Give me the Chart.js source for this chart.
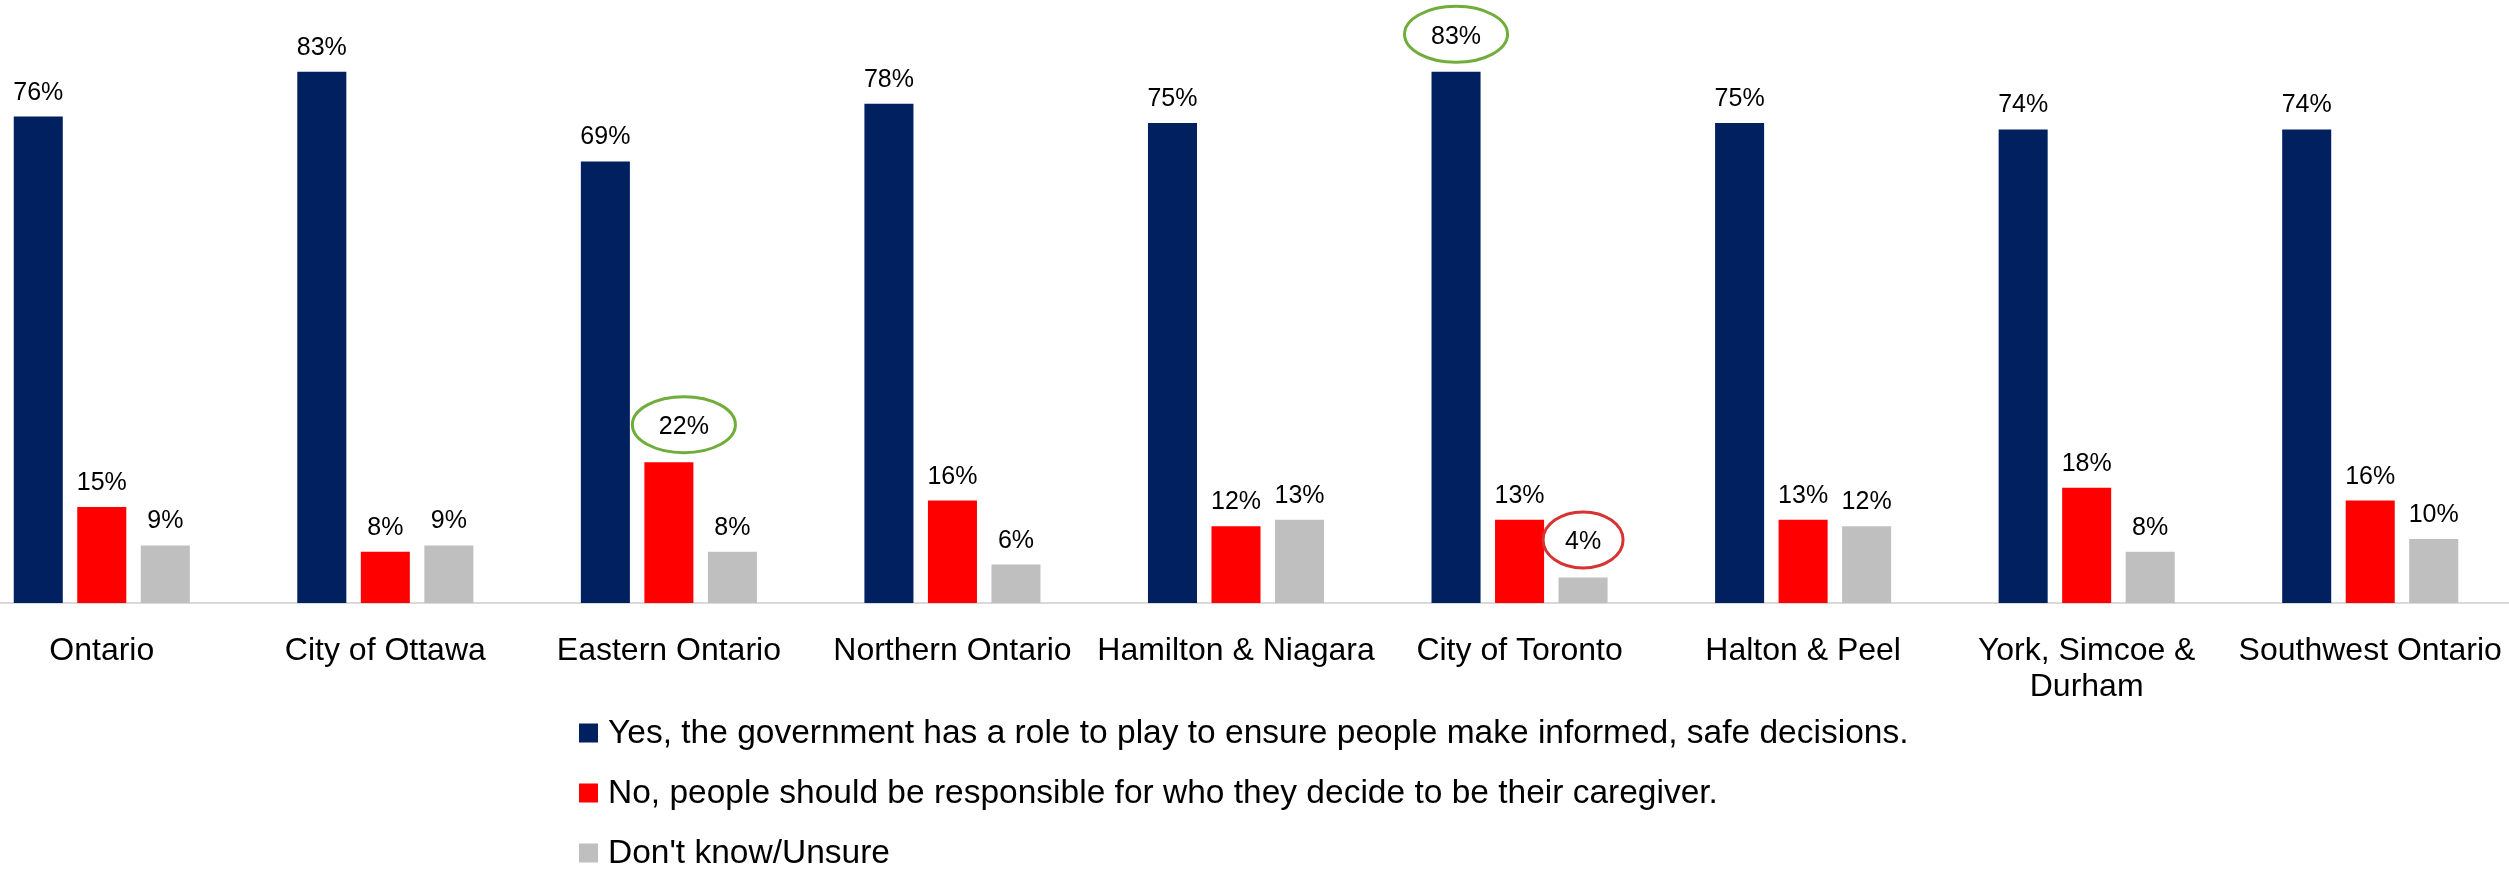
<!DOCTYPE html>
<html>
<head>
<meta charset="utf-8">
<script src="https://cdn.jsdelivr.net/npm/chart.js@4.4.1/dist/chart.umd.min.js"></script>
<style>
    html, body { margin: 0; padding: 0; background: #fff; overflow: hidden; }
    #wrap { position: absolute; left: -40px; top: 0; width: 2552px; height: 869px; }
</style>
</head>
<body>
<div id="wrap"><canvas id="chartRegions" width="2552" height="869"></canvas></div>
<script>
const regions = [
    "Ontario",
    "City of Ottawa",
    "Eastern Ontario",
    "Northern Ontario",
    "Hamilton & Niagara",
    "City of Toronto",
    "Halton & Peel",
    ["York, Simcoe &", "Durham"],
    "Southwest Ontario",
];
const yesValues = [76, 83, 69, 78, 75, 83, 75, 74, 74];
const noValues = [15, 8, 22, 16, 12, 13, 13, 18, 16];
const unsureValues = [9, 9, 8, 6, 13, 4, 12, 8, 10];
const seriesNames = [
    "Yes, the government has a role to play to ensure people make informed, safe decisions.",
    "No, people should be responsible for who they decide to be their caregiver.",
    "Don't know/Unsure",
];
const seriesColors = ["#002060", "#FF0000", "#BFBFBF"];
// circled labels: dataset index, category index, ring colour, sideways nudge
const highlights = [
    { ds: 1, idx: 2, color: "#70AD3A", dx: 15 },
    { ds: 0, idx: 5, color: "#70AD3A", dx: 0 },
    { ds: 2, idx: 5, color: "#D63333", dx: 0 },
];

const FONT = "'Liberation Sans', Arial, Helvetica, sans-serif";

const valueLabels = {
    id: "valueLabels",
    afterDatasetsDraw(chart) {
        const ctx = chart.ctx;
        ctx.save();
        ctx.font = "25px " + FONT;
        ctx.textAlign = "center";
        ctx.textBaseline = "alphabetic";
        chart.data.datasets.forEach((ds, i) => {
            const meta = chart.getDatasetMeta(i);
            meta.data.forEach((bar, j) => {
                const hl = highlights.find((h) => h.ds === i && h.idx === j);
                const text = ds.data[j] + "%";
                ctx.fillStyle = "#000";
                if (hl) {
                    const x = bar.x + hl.dx;
                    ctx.fillText(text, x, bar.y - 28);
                    const w = text.length > 2 ? 103 : 80;
                    ctx.beginPath();
                    ctx.ellipse(x, bar.y - 37.5, w / 2, 28, 0, 0, Math.PI * 2);
                    ctx.lineWidth = 3;
                    ctx.strokeStyle = hl.color;
                    ctx.stroke();
                } else {
                    ctx.fillText(text, bar.x, bar.y - 17);
                }
            });
        });
        ctx.restore();
    },
};

const stackedLegend = {
    id: "stackedLegend",
    afterDraw(chart) {
        const ctx = chart.ctx;
        const base = chart.chartArea.bottom;
        const left = 619;
        ctx.save();
        ctx.font = "33.5px " + FONT;
        ctx.textAlign = "left";
        ctx.textBaseline = "middle";
        chart.data.datasets.forEach((ds, i) => {
            const cy = base + 130 + i * 60;
            ctx.fillStyle = ds.backgroundColor;
            ctx.fillRect(left, cy - 9.5, 19, 19);
            ctx.fillStyle = "#000";
            ctx.fillText(ds.label, left + 29, cy + 1);
        });
        ctx.restore();
    },
};

const ctx = document.getElementById("chartRegions");
const chart = new Chart(ctx, {
    type: "bar",
    data: {
        labels: regions,
        datasets: [
            { label: seriesNames[0], data: yesValues, backgroundColor: seriesColors[0] },
            { label: seriesNames[1], data: noValues, backgroundColor: seriesColors[1] },
            { label: seriesNames[2], data: unsureValues, backgroundColor: seriesColors[2] },
        ],
    },
    options: {
        responsive: false,
        animation: false,
        categoryPercentage: 0.672,
        barPercentage: 0.772,
        layout: { padding: { top: 27, left: 0, right: 0, bottom: 0 } },
        scales: {
            x: {
                grid: { display: true, drawOnChartArea: false, drawTicks: false },
                border: { display: true, color: "#D9D9D9", width: 2 },
                ticks: {
                    color: "#000",
                    padding: 31,
                    maxRotation: 0,
                    autoSkip: false,
                    font: { family: FONT, size: 32, lineHeight: 1.1 },
                },
                afterFit(scale) {
                    scale.height = 266;
                    scale.paddingLeft = 0;
                    scale.paddingRight = 0;
                },
            },
            y: {
                display: false,
                min: 0,
                max: 90,
            },
        },
        plugins: {
            legend: { display: false },
            tooltip: { enabled: false },
        },
    },
    plugins: [valueLabels, stackedLegend],
});
</script>
</body>
</html>
